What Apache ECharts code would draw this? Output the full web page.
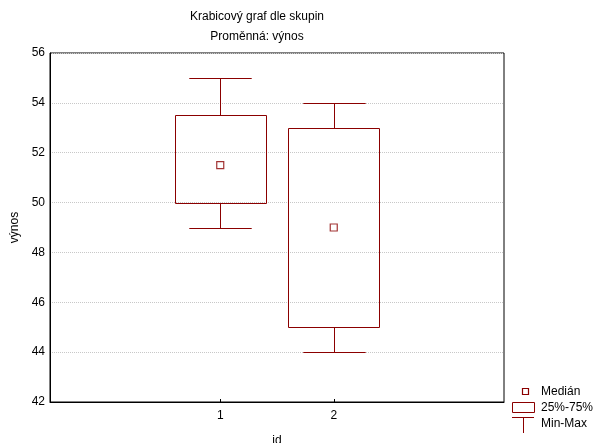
<!DOCTYPE html>
<html><head><meta charset="utf-8">
<script src="https://cdn.jsdelivr.net/npm/echarts@6/dist/echarts.min.js"></script>
<style>html,body{margin:0;padding:0;background:#fff}#c{width:593px;height:443px}</style>
</head><body><div id="c"></div>
<script>
const groups = [1, 2];
const mins = [49, 44];
const q1s = [50, 45];
const medians = [51.5, 49];
const q3s = [53.5, 53];
const maxs = [55, 54];
const yTicks = [42, 44, 46, 48, 50, 52, 54, 56];
const titleLines = ['Krabicový graf dle skupin', 'Proměnná: výnos'];
const legendNames = ['Medián', '25%-75%', 'Min-Max'];

const RED = '#8B0000';
const FONT = 'Liberation Sans, Arial, sans-serif';

const boxData = groups.map((g, i) => [g, q1s[i], q3s[i]]);
const whiskData = groups.map((g, i) => [g, mins[i], q1s[i], q3s[i], maxs[i]]);
const medData = groups.map((g, i) => [g, medians[i]]);

const chart = echarts.init(document.getElementById('c'), null, {renderer: 'canvas'});
chart.setOption({
  animation: false,
  backgroundColor: '#fff',
  title: [
    {text: titleLines[0], left: 257, top: 11, textAlign: 'center', padding: 0,
     textStyle: {fontFamily: FONT, fontSize: 12, fontWeight: 'normal', color: '#000'}},
    {text: titleLines[1], left: 257, top: 31, textAlign: 'center', padding: 0,
     textStyle: {fontFamily: FONT, fontSize: 12, fontWeight: 'normal', color: '#000'}}
  ],
  grid: {left: 50, top: 53, right: 89, bottom: 41, outerBoundsMode: 'none', containLabel: false,
         show: true, borderColor: '#000', borderWidth: 1, backgroundColor: '#fff'},
  xAxis: {
    type: 'value', min: -0.5, max: 3.5, interval: 0.5,
    name: 'id', nameLocation: 'middle', nameGap: 33,
    nameTextStyle: {fontFamily: FONT, fontSize: 12, color: '#000'},
    axisLine: {onZero: false, lineStyle: {color: '#000', width: 1}},
    axisTick: {show: true, inside: true, length: 3, customValues: groups, lineStyle: {color: '#000'}},
    axisLabel: {customValues: groups, fontFamily: FONT, fontSize: 12, color: '#000', margin: 8},
    splitLine: {show: false}
  },
  yAxis: {
    type: 'value', min: 42, max: 56, interval: 2,
    name: 'výnos', nameLocation: 'middle', nameGap: 29,
    nameTextStyle: {fontFamily: FONT, fontSize: 12, color: '#000'},
    axisLine: {show: true, onZero: false, lineStyle: {color: '#000', width: 1}},
    axisTick: {show: false},
    axisLabel: {fontFamily: FONT, fontSize: 12, color: '#000', margin: 5},
    splitLine: {show: true, lineStyle: {color: '#c8c8c8', type: [1, 1], width: 1}}
  },
  series: [
    {
      name: legendNames[2], type: 'custom', data: whiskData,
      renderItem: function (params, api) {
        const x = api.value(0);
        const pMin = api.coord([x, api.value(1)]);
        const pQ1 = api.coord([x, api.value(2)]);
        const pQ3 = api.coord([x, api.value(3)]);
        const pMax = api.coord([x, api.value(4)]);
        const capW = api.size([0.55, 0])[0];
        const cx = Math.round(pMin[0]) + 0.5;
        const st = {stroke: RED, lineWidth: 1, fill: null};
        const r = v => Math.round(v) + 0.5;
        return {type: 'group', children: [
          {type: 'line', shape: {x1: cx, y1: r(pMin[1]), x2: cx, y2: r(pQ1[1])}, style: st},
          {type: 'line', shape: {x1: cx, y1: r(pQ3[1]), x2: cx, y2: r(pMax[1])}, style: st},
          {type: 'line', shape: {x1: cx - capW / 2, y1: r(pMin[1]), x2: cx + capW / 2, y2: r(pMin[1])}, style: st},
          {type: 'line', shape: {x1: cx - capW / 2, y1: r(pMax[1]), x2: cx + capW / 2, y2: r(pMax[1])}, style: st}
        ]};
      }
    },
    {
      name: legendNames[1], type: 'custom', data: boxData,
      renderItem: function (params, api) {
        const x = api.value(0);
        const pQ1 = api.coord([x, api.value(1)]);
        const pQ3 = api.coord([x, api.value(2)]);
        const w = api.size([0.8, 0])[0];
        const x0 = Math.round(pQ1[0] - w / 2) + 0.5;
        const y0 = Math.round(pQ3[1]) + 0.5;
        const y1 = Math.round(pQ1[1]) + 0.5;
        return {type: 'rect', shape: {x: x0, y: y0, width: Math.round(w), height: y1 - y0},
                style: {stroke: RED, lineWidth: 1, fill: 'rgba(255,255,255,0)'}};
      }
    },
    {
      name: legendNames[0], type: 'scatter', data: medData,
      symbol: 'rect', symbolSize: 7,
      itemStyle: {color: '#fff', borderColor: RED, borderWidth: 1.2}
    }
  ],
  graphic: [
    {type: 'rect', shape: {x: 522.5, y: 388.5, width: 6, height: 6}, style: {stroke: RED, fill: '#fff', lineWidth: 1.2}},
    {type: 'text', x: 541, y: 392, style: {text: legendNames[0], font: '12px ' + FONT, fill: '#000', verticalAlign: 'middle'}},
    {type: 'rect', shape: {x: 512.5, y: 402.5, width: 22, height: 10}, style: {stroke: RED, fill: '#fff', lineWidth: 1}},
    {type: 'text', x: 541, y: 408, style: {text: legendNames[1], font: '12px ' + FONT, fill: '#000', verticalAlign: 'middle'}},
    {type: 'line', shape: {x1: 512, y1: 417.5, x2: 534, y2: 417.5}, style: {stroke: RED, lineWidth: 1}},
    {type: 'line', shape: {x1: 523.5, y1: 417.5, x2: 523.5, y2: 433}, style: {stroke: RED, lineWidth: 1}},
    {type: 'text', x: 541, y: 424, style: {text: legendNames[2], font: '12px ' + FONT, fill: '#000', verticalAlign: 'middle'}}
  ]
});
</script></body></html>
